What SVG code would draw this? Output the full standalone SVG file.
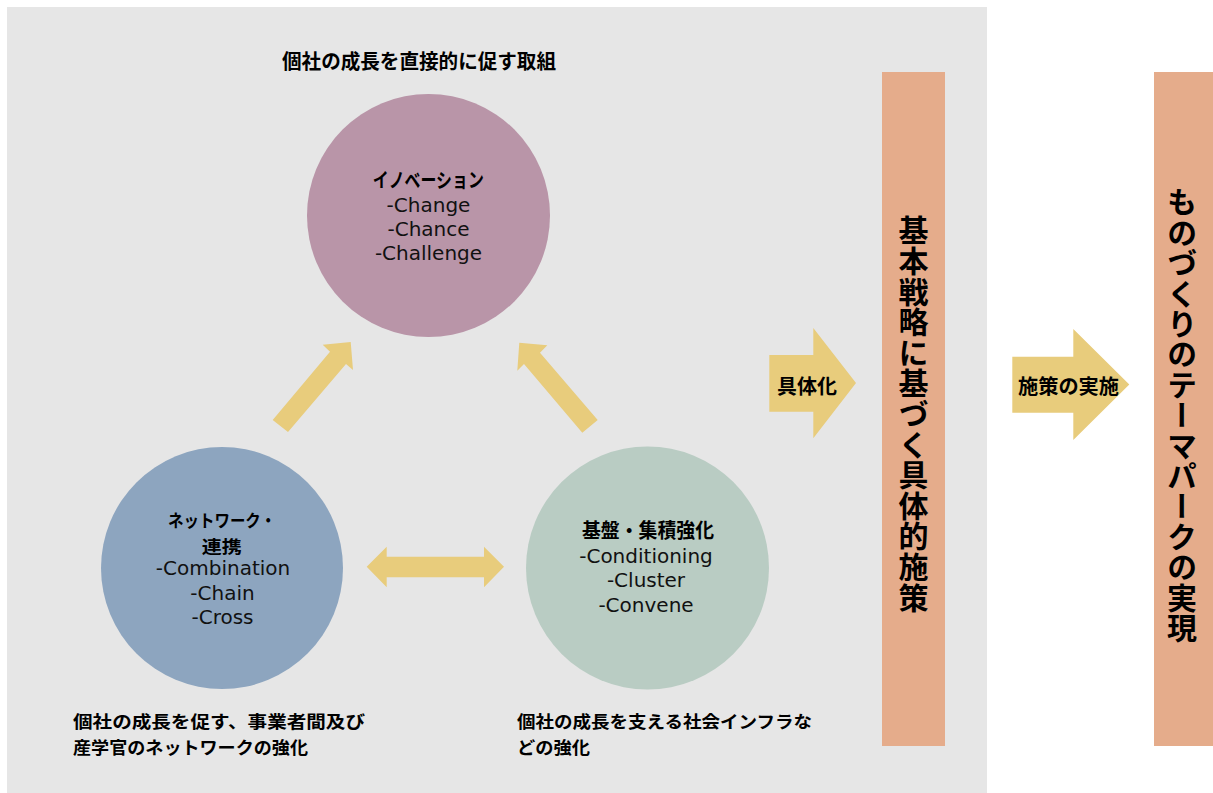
<svg xmlns="http://www.w3.org/2000/svg" width="1213" height="793" viewBox="0 0 1213 793">
<style>
.jp{font-family:"Noto Sans CJK JP","Noto Sans CJK SC",sans-serif;font-weight:bold;font-size:20px;fill:#000}
.jp2{font-family:"Noto Sans CJK JP","Noto Sans CJK SC",sans-serif;font-weight:bold;font-size:17.5px;fill:#000}
.en{font-family:"DejaVu Sans","Noto Sans",sans-serif;font-size:20px;fill:#111}
.vt{font-family:"Noto Sans CJK JP","Noto Sans CJK SC",sans-serif;font-weight:bold;font-size:30px;fill:#000;writing-mode:vertical-rl;text-anchor:middle}
.arr{fill:#E8CC7C}
.bar{fill:#E5AC8B}
</style>
<rect x="0" y="0" width="1213" height="793" fill="#FFFFFF"/>
<rect x="7" y="7" width="980" height="786" fill="#E6E6E6"/>
<g id="title">
<text class="jp" x="419" y="68.5" text-anchor="middle" textLength="274" lengthAdjust="spacingAndGlyphs">個社の成長を直接的に促す取組</text>
</g>
<g id="node-innovation">
<circle cx="428.5" cy="215.5" r="121.5" fill="#B995A8"/>
<text class="jp" x="428.3" y="187.5" text-anchor="middle" textLength="111" lengthAdjust="spacingAndGlyphs">イノベーション</text>
<text class="en" text-anchor="middle"><tspan x="428.5" y="211.7">-Change</tspan><tspan x="428.5" y="236">-Chance</tspan><tspan x="428.5" y="260.3">-Challenge</tspan></text>
</g>
<g id="node-network">
<circle cx="222" cy="568" r="121" fill="#8DA5BF"/>
<text class="jp2" x="168" y="526.5" textLength="108" lengthAdjust="spacingAndGlyphs">ネットワーク・</text>
<text class="jp2" x="221.7" y="552.5" text-anchor="middle" textLength="40" lengthAdjust="spacingAndGlyphs">連携</text>
<text class="en" text-anchor="middle"><tspan x="223" y="575">-Combination</tspan><tspan x="222.5" y="599.5">-Chain</tspan><tspan x="222.5" y="624">-Cross</tspan></text>
</g>
<g id="node-infra">
<circle cx="647.5" cy="568" r="121.5" fill="#B9CCC3"/>
<text class="jp" x="648" y="538" text-anchor="middle" textLength="132" lengthAdjust="spacingAndGlyphs">基盤・集積強化</text>
<text class="en" text-anchor="middle"><tspan x="646" y="562.7">-Conditioning</tspan><tspan x="646" y="587.3">-Cluster</tspan><tspan x="646" y="611.7">-Convene</tspan></text>
</g>
<g id="label-network">
<text class="jp2" x="73" y="727.8" textLength="292" lengthAdjust="spacingAndGlyphs">個社の成長を促す、事業者間及び</text>
<text class="jp2" x="73" y="753.8" textLength="235" lengthAdjust="spacingAndGlyphs">産学官のネットワークの強化</text>
</g>
<g id="label-infra">
<text class="jp2" x="517" y="727.8" textLength="295" lengthAdjust="spacingAndGlyphs">個社の成長を支える社会インフラな</text>
<text class="jp2" x="517" y="753.8" textLength="73" lengthAdjust="spacingAndGlyphs">どの強化</text>
</g>
<g id="node-strategy">
<rect class="bar" x="882" y="72" width="63" height="674"/>
<text class="vt" x="913.5" y="414" letter-spacing="0.6">基本戦略に基づく具体的施策</text>
</g>
<g id="node-themepark">
<rect class="bar" x="1154" y="72" width="59" height="674"/>
<text class="vt" x="1182" y="415" letter-spacing="0.4">ものづくりのテーマパークの実現</text>
</g>
<g id="connectors">
<polygon class="arr" points="272.7,420 330,351.7 322.7,344.7 350.7,342 353,370 346,364 288,432"/>
<polygon class="arr" points="519.3,342.7 547.3,345.3 540,352.7 597.7,420 582.3,432.7 524,364 517.3,370.7"/>
<polygon class="arr" points="366.7,566.7 386.7,546.7 386.7,556.7 484,556.7 484,546.7 504,566.7 484,587.3 484,577.3 386.7,577.3 386.7,587.3"/>
<polygon class="arr" points="769.3,355 813.3,355 813.3,328 856,383 813.3,438.3 813.3,411.7 769.3,411.7"/>
<polygon class="arr" points="1012.3,356.7 1073.3,356.7 1073.3,329 1129.3,384.5 1073.3,440 1073.3,412.7 1012.3,412.7"/>
<text class="jp" x="807" y="393.5" text-anchor="middle" textLength="60" lengthAdjust="spacingAndGlyphs">具体化</text>
<text class="jp" x="1068.5" y="394" text-anchor="middle" textLength="101" lengthAdjust="spacingAndGlyphs">施策の実施</text>
</g>
</svg>
